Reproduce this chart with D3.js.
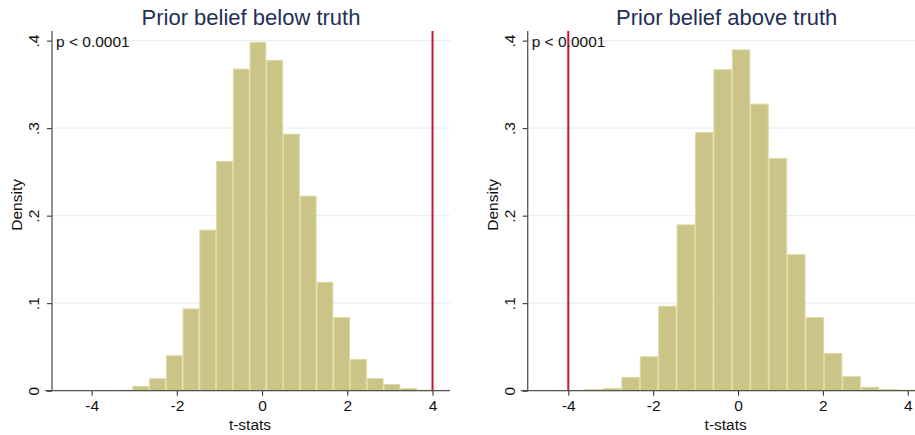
<!DOCTYPE html>
<html>
<head>
<meta charset="utf-8">
<script src="https://cdn.jsdelivr.net/npm/d3@7"></script>
<style>
  html, body { margin: 0; padding: 0; background: #fff; }
  svg { display: block; }
  text { font-family: "Liberation Sans", Arial, Helvetica, sans-serif; }
</style>
</head>
<body>
<svg id="chart" width="915" height="435"></svg>
<script>
// Histogram densities of simulated t-statistics (20 equal-width bins per panel)
const titles = ["Prior belief below truth", "Prior belief above truth"];
const xTicks = [-4, -2, 0, 2, 4];
const xTickLabels = ["-4", "-2", "0", "2", "4"];
const yTicks = [0, 0.1, 0.2, 0.3, 0.4];
const yTickLabels = ["0", ".1", ".2", ".3", ".4"];
const pLabel = "p < 0.0001";
const xTitle = "t-stats";
const yTitle = "Density";

const belowStart = -3.83;
const belowWidth = 0.393;
const belowDensity = [0.0008, 0.001, 0.0054, 0.0142, 0.0405, 0.094, 0.184, 0.2625, 0.368, 0.3986,
                      0.378, 0.2937, 0.2228, 0.1244, 0.084, 0.0363, 0.0144, 0.0077, 0.003, 0.0012];
const belowTruth = 4;

const aboveStart = -4.485;
const aboveWidth = 0.434;
const aboveDensity = [0.0008, 0.0008, 0.002, 0.003, 0.0158, 0.0393, 0.097, 0.19, 0.2956, 0.3673,
                      0.390, 0.328, 0.266, 0.156, 0.084, 0.0431, 0.0166, 0.0045, 0.002, 0.0012];
const aboveTruth = -4;

const belowDomain = [-4.93, 4.41];
const aboveDomain = [-4.957, 4.423];
const yDomain = [0, 0.411];

const panels = [
  { title: titles[0], start: belowStart, width: belowWidth, density: belowDensity, truth: belowTruth, domain: belowDomain, left: 52 },
  { title: titles[1], start: aboveStart, width: aboveWidth, density: aboveDensity, truth: aboveTruth, domain: aboveDomain, left: 527.7 }
];

const plotW = 398, plotTop = 31, plotBottom = 390.7;
const svg = d3.select("#chart");

const barFill = "#cbc487";
const barStroke = "#ddd8a4";
const gridColor = "#e8f0f2";
const axisColor = "#555555";
const titleColor = "#1f2f55";
const truthColor = "#cc1236";
const fontStack = "'Liberation Sans', Arial, sans-serif";

panels.forEach(p => {
  const x = d3.scaleLinear().domain(p.domain).range([p.left, p.left + plotW]);
  const y = d3.scaleLinear().domain(yDomain).range([plotBottom, plotTop]);
  const g = svg.append("g");

  // horizontal gridlines
  g.selectAll("line.grid").data(yTicks.slice(1)).enter().append("line")
    .attr("x1", p.left).attr("x2", p.left + plotW)
    .attr("y1", d => y(d)).attr("y2", d => y(d))
    .attr("stroke", gridColor).attr("stroke-width", 1.2);

  // histogram bars
  const bins = p.density.map((d, i) => ({ x0: p.start + i * p.width, x1: p.start + (i + 1) * p.width, v: d }));
  g.selectAll("rect.bar").data(bins).enter().append("rect")
    .attr("x", d => x(d.x0) + 0.5)
    .attr("width", d => x(d.x1) - x(d.x0) - 1)
    .attr("y", d => y(d.v) + 0.5)
    .attr("height", d => Math.max(0, y(0) - y(d.v) - 0.5))
    .attr("fill", barFill)
    .attr("stroke", barStroke)
    .attr("stroke-width", 1);

  // vertical line at the true value
  g.append("line")
    .attr("x1", x(p.truth)).attr("x2", x(p.truth))
    .attr("y1", plotTop).attr("y2", plotBottom)
    .attr("stroke", truthColor).attr("stroke-width", 2);

  // x axis
  const xAxis = g.append("g").attr("transform", `translate(0,${plotBottom})`)
    .call(d3.axisBottom(x).tickValues(xTicks).tickFormat((d, i) => xTickLabels[i]).tickSize(5).tickSizeOuter(0));
  xAxis.select(".domain").remove();
  xAxis.selectAll(".tick line").attr("stroke", "#222");
  xAxis.selectAll(".tick text")
    .attr("y", 20.8).attr("dy", null)
    .attr("fill", "#111").attr("font-size", 15.5)
    .style("font-family", fontStack);
  g.append("line")
    .attr("x1", p.left - 7).attr("x2", p.left + plotW)
    .attr("y1", plotBottom).attr("y2", plotBottom)
    .attr("stroke", axisColor).attr("stroke-width", 1.3);

  // y axis
  const yAxis = g.append("g").attr("transform", `translate(${p.left},0)`)
    .call(d3.axisLeft(y).tickValues(yTicks).tickFormat((d, i) => yTickLabels[i]).tickSize(5).tickSizeOuter(0));
  yAxis.select(".domain").remove();
  yAxis.selectAll(".tick line").attr("stroke", "#222");
  yAxis.selectAll(".tick text")
    .attr("x", null).attr("dy", null)
    .attr("fill", "#111").attr("font-size", 15.5)
    .attr("text-anchor", "middle")
    .attr("transform", "translate(-13,0) rotate(-90)")
    .style("font-family", fontStack);
  g.append("line")
    .attr("x1", p.left).attr("x2", p.left)
    .attr("y1", plotTop).attr("y2", plotBottom)
    .attr("stroke", axisColor).attr("stroke-width", 1.3);

  // p-value note
  g.append("text")
    .attr("x", p.left + 4).attr("y", 47)
    .attr("font-size", 15.5).attr("fill", "#111")
    .text(pLabel);

  // panel title
  g.append("text")
    .attr("x", p.left + plotW / 2).attr("y", 25)
    .attr("text-anchor", "middle")
    .attr("font-size", 22).attr("fill", titleColor)
    .text(p.title);

  // axis titles
  g.append("text")
    .attr("x", p.left + plotW / 2 - 1).attr("y", 429.5)
    .attr("text-anchor", "middle")
    .attr("font-size", 15.5).attr("fill", "#111")
    .text(xTitle);
  g.append("text")
    .attr("transform", `translate(${p.left - 30},${(plotTop + plotBottom) / 2 - 6}) rotate(-90)`)
    .attr("text-anchor", "middle")
    .attr("font-size", 15.5).attr("fill", "#111")
    .text(yTitle);
});
</script>
</body>
</html>
